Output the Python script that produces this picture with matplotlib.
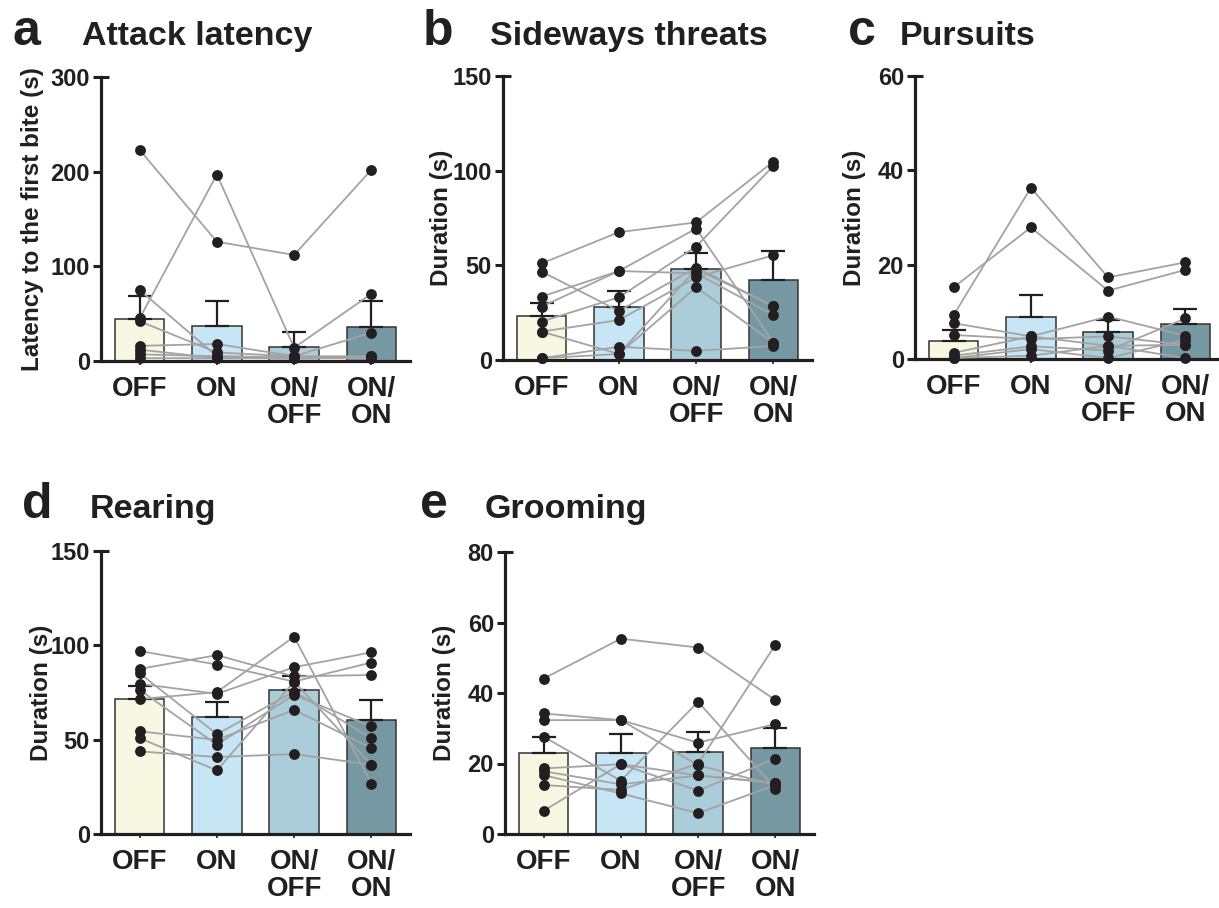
import matplotlib
matplotlib.use("Agg")
import matplotlib.pyplot as plt
from matplotlib.lines import Line2D

plt.rcParams['font.family'] = ['Liberation Sans', 'DejaVu Sans']
plt.rcParams['font.weight'] = 'bold'

# ---------------- data ----------------
conditions = ["OFF", "ON", "ON/\nOFF", "ON/\nON"]
bar_colors = ["#F8F8E2", "#C6E6F5", "#ABCCD9", "#7698A3"]

# panel a: attack latency (per-subject values across OFF, ON, ON/OFF, ON/ON)
a_subjects = [
    [223, 126, 112, 202],
    [45, 197, 14, 71],
    [75, 5, 3, 3],
    [42, 9, 5, 5],
    [16, 18, 5, 30],
    [12, 3, 3, 3],
    [7, 5, 4, 3],
    [3, 3, 3, 5],
]
a_mean = [44, 37, 15, 36]
a_sem = [25, 26, 16, 27]
a_ticks = [0, 100, 200, 300]

# panel b: sideways threats
b_subjects = [
    [51.0, 67.5, 72.7, 104.8],
    [46.7, 25.9, 48.8, 28.5],
    [33.5, 47.0, 69.4, 9.2],
    [28.2, 47.0, 45.8, 23.8],
    [20.3, 33.1, 59.9, 102.5],
    [15.0, 21.1, 43.7, 55.3],
    [15.0, 3.2, 38.4, 9.2],
    [0.9, 7.0, 4.8, 7.4],
    [0.9, 3.2, 48.0, 28.5],
]
b_mean = [23.2, 28.2, 47.9, 42.3]
b_sem = [7.1, 8.4, 8.4, 15.4]
b_ticks = [0, 50, 100, 150]

# panel c: pursuits
c_subjects = [
    [15.2, 27.9, 14.5, 18.9],
    [9.3, 36.3, 17.3, 20.5],
    [7.6, 4.8, 2.8, 0.2],
    [5.1, 4.2, 4.8, 3.0],
    [1.3, 4.8, 9.0, 4.9],
    [0.7, 2.7, 1.8, 8.6],
    [0.2, 2.1, 0.2, 4.1],
    [0.2, 0.7, 2.8, 3.0],
]
c_mean = [3.9, 9.0, 5.7, 7.5]
c_sem = [2.2, 4.6, 2.6, 3.1]
c_ticks = [0, 20, 40, 60]

# panel d: rearing
d_subjects = [
    [97.0, 89.8, 80.8, 90.9],
    [87.5, 94.8, 83.5, 84.3],
    [85.2, 52.9, 75.5, 50.8],
    [79.6, 74.3, 88.4, 96.3],
    [76.4, 47.3, 73.8, 57.0],
    [71.5, 75.2, 104.6, 26.6],
    [54.4, 49.9, 65.8, 45.5],
    [50.8, 33.7, 80.8, 36.7],
    [43.8, 40.8, 42.4, 36.7],
]
d_mean = [71.5, 61.8, 76.4, 60.5]
d_sem = [6.7, 8.1, 7.6, 10.4]
d_ticks = [0, 50, 100, 150]

# panel e: grooming
e_subjects = [
    [44.1, 55.4, 52.9, 38.0],
    [34.2, 32.3, 25.9, 31.2],
    [32.3, 32.3, 19.5, 13.9],
    [27.6, 15.1, 37.5, 12.9],
    [18.6, 19.8, 12.3, 21.4],
    [17.8, 14.1, 16.6, 14.5],
    [16.7, 11.5, 5.9, 13.9],
    [13.9, 12.5, 20.0, 53.7],
    [6.6, 19.8, 16.6, 14.5],
]
e_mean = [22.9, 23.0, 23.3, 24.3]
e_sem = [4.5, 5.3, 5.6, 5.8]
e_ticks = [0, 20, 40, 60, 80]

# ---------------- figure ----------------
W, H = 1219, 908
fig = plt.figure(figsize=(W / 100, H / 100), dpi=100)
ink = "#231F20"


def px_axes(x0, y_top, x1, y_bot):
    return fig.add_axes([x0 / W, 1 - y_bot / H, (x1 - x0) / W, (y_bot - y_top) / H])


def draw_panel(ax, subjects, mean, sem, ticks, ylabel, label_off_px, width_px):
    x = list(range(len(conditions)))
    ax.bar(x, mean, width=0.64, color=bar_colors, edgecolor="#333333",
           linewidth=1.1, zorder=1)
    ax.errorbar(x, mean, yerr=[[0] * len(sem), sem], fmt="none", ecolor=ink,
                elinewidth=1.6, capsize=8.5, capthick=1.6, zorder=2)
    for s in subjects:
        ax.plot(x, s, color="#A3A3A3", lw=1.3, zorder=3, clip_on=False)
    for s in subjects:
        ax.plot(x, s, "o", color=ink, ms=7.8, mew=0, zorder=4, clip_on=False)
    ax.set_xlim(-0.5, 3.5)
    ax.set_ylim(ticks[0], ticks[-1])
    ax.set_yticks(ticks)
    ax.set_yticklabels([str(t) for t in ticks], fontsize=17, fontweight="bold", color=ink)
    ax.set_xticks(x)
    ax.set_xticklabels(conditions, fontsize=20, fontweight="bold", color=ink,
                       linespacing=1.05)
    for sp in ["top", "right"]:
        ax.spines[sp].set_visible(False)
    for sp in ["left", "bottom"]:
        ax.spines[sp].set_linewidth(2.3)
        ax.spines[sp].set_color(ink)
    ax.tick_params(axis="y", direction="out", length=6, width=2.2, color=ink, pad=2)
    ax.tick_params(axis="x", direction="out", length=3, width=1.2, color=ink, pad=8)
    ax.set_ylabel(ylabel, fontsize=17.5, fontweight="bold", color=ink)
    ax.yaxis.set_label_coords(-label_off_px / width_px, 0.5)
    # small cap at top of the y axis
    ax.add_line(Line2D([0, 8 / width_px], [ticks[-1], ticks[-1]],
                       transform=ax.get_yaxis_transform(), color=ink, lw=2.2,
                       clip_on=False, solid_capstyle="butt"))


ax_a = px_axes(101, 77, 410, 361)
draw_panel(ax_a, a_subjects, a_mean, a_sem, a_ticks,
           "Latency to the first bite (s)", 57, 309)
ax_b = px_axes(503, 76, 812, 360)
draw_panel(ax_b, b_subjects, b_mean, b_sem, b_ticks, "Duration (s)", 50, 309)
ax_c = px_axes(915, 76, 1224, 359)
draw_panel(ax_c, c_subjects, c_mean, c_sem, c_ticks, "Duration (s)", 49, 309)
ax_d = px_axes(101, 551, 410, 834)
draw_panel(ax_d, d_subjects, d_mean, d_sem, d_ticks, "Duration (s)", 48, 309)
ax_e = px_axes(505, 552, 814, 834)
draw_panel(ax_e, e_subjects, e_mean, e_sem, e_ticks, "Duration (s)", 49, 309)

# panel letters and titles
letters = [("a", 12, 45), ("b", 423, 45), ("c", 848, 45), ("d", 22, 518), ("e", 420, 518)]
titles = [("Attack latency", 82, 45), ("Sideways threats", 490, 45), ("Pursuits", 900, 45),
          ("Rearing", 90, 518), ("Grooming", 485, 518)]
for t, x, y in letters:
    fig.text(x / W, 1 - y / H, t, fontsize=36, fontweight="bold", color=ink,
             ha="left", va="baseline")
for t, x, y in titles:
    fig.text(x / W, 1 - y / H, t, fontsize=24.5, fontweight="bold", color=ink,
             ha="left", va="baseline")

fig.savefig("out.png", dpi=100)
